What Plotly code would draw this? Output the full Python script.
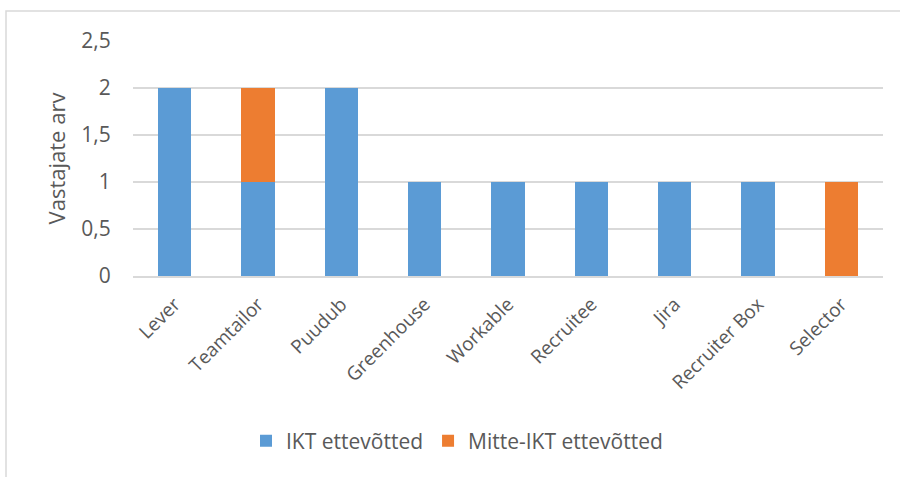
import plotly.graph_objects as go

categories = ["Lever", "Teamtailor", "Puudub", "Greenhouse", "Workable",
              "Recruitee", "Jira", "Recruiter Box", "Selector"]
ikt = [2, 1, 2, 1, 1, 1, 1, 1, 0]
mitte_ikt = [0, 1, 0, 0, 0, 0, 0, 0, 1]
series_names = ["IKT ettevõtted", "Mitte-IKT ettevõtted"]
y_ticks = [0, 0.5, 1, 1.5, 2, 2.5]

FONT = "Open Sans"
TXT = "#595959"

fig = go.Figure()
fig.add_trace(go.Bar(x=categories, y=ikt, name=series_names[0],
                     marker=dict(color="#5B9BD5", line=dict(width=0))))
fig.add_trace(go.Bar(x=categories, y=mitte_ikt, name=series_names[1],
                     marker=dict(color="#ED7D31", line=dict(width=0))))

L, R, T, B = 133, 17, 41, 201
W, H = 900, 477
pw, ph = W - L - R, H - T - B

fig.update_layout(
    barmode="stack",
    bargap=0.6,
    width=W, height=H,
    margin=dict(l=L, r=R, t=T, b=B),
    paper_bgcolor="white", plot_bgcolor="white",
    separators=",.",
    font=dict(family=FONT, color=TXT, size=18),
    showlegend=True,
    legend=dict(orientation="h", x=(246 - L) / pw, xanchor="left",
                y=(T + ph - 441) / ph, yanchor="middle",
                font=dict(size=21, color=TXT), itemwidth=30,
                traceorder="normal"),
    xaxis=dict(showline=True, linecolor="#D9D9D9", linewidth=1.5,
               tickangle=-45, ticks="outside", ticklen=8, tickcolor="rgba(0,0,0,0)",
               tickfont=dict(size=19, color=TXT), showgrid=False),
    yaxis=dict(range=[0, 2.5], tickvals=y_ticks, showgrid=True,
               gridcolor="#D9D9D9", gridwidth=1.5, zeroline=False,
               ticks="outside", ticklen=17, tickcolor="rgba(0,0,0,0)",
               tickfont=dict(size=21, color=TXT),
               title=dict(text="Vastajate arv", font=dict(size=22, color=TXT), standoff=9)),
)

# outer chart border (top-left visible)
fig.add_shape(type="rect", xref="paper", yref="paper",
              x0=(6 - L) / pw, x1=(W + 20 - L) / pw,
              y0=(T + ph - (H + 20)) / ph, y1=(T + ph - 11) / ph,
              line=dict(color="#D9D9D9", width=1.5), fillcolor="rgba(0,0,0,0)",
              layer="below")

fig.write_html("out.html")
